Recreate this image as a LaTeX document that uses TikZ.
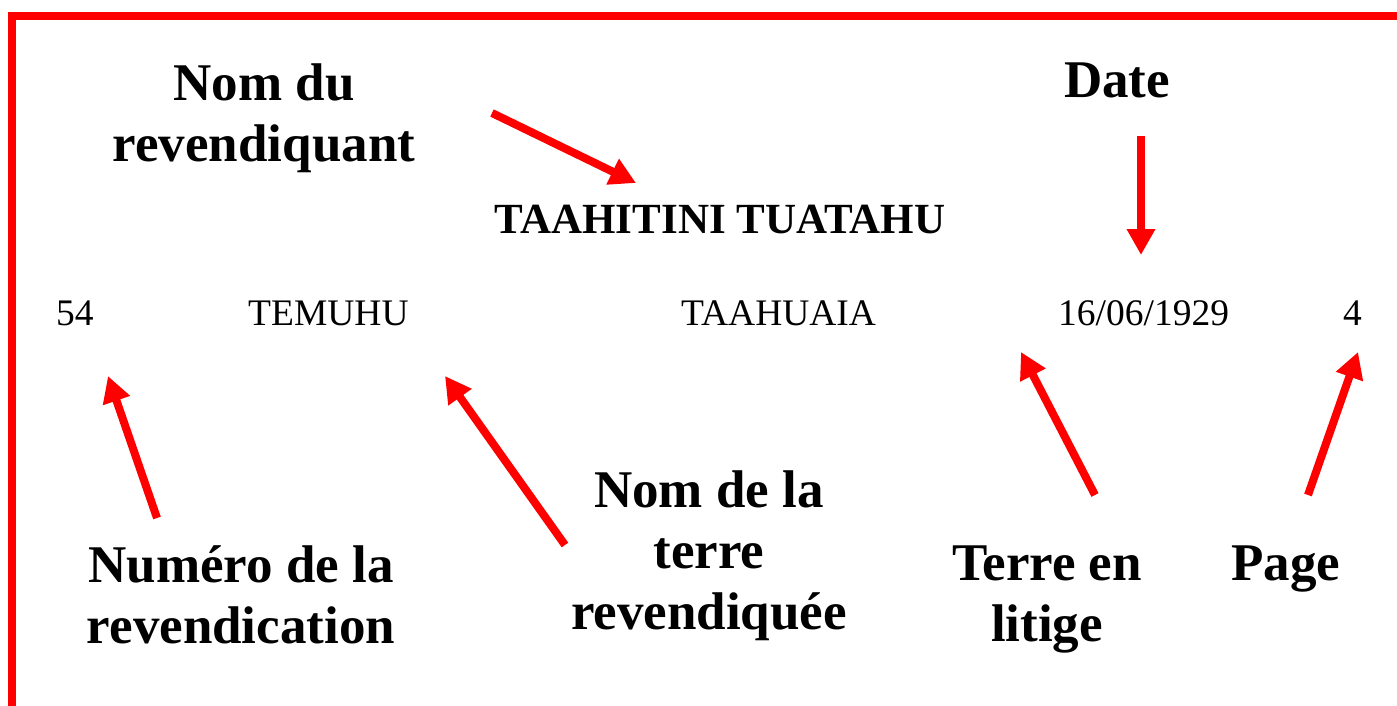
\documentclass[tikz,border=0pt]{standalone}
\usepackage{fontspec}
\setmainfont{Liberation Serif}
\usetikzlibrary{arrows.meta}
\tikzset{
  etiqueta/.style={font=\fontsize{53}{61}\selectfont\bfseries, align=center, anchor=base, inner sep=0pt},
  valor/.style={font=\fontsize{37.5}{44}\selectfont, anchor=base west, inner sep=0pt},
  flecha/.style={red, line width=8pt, -{Triangle[width=27pt,length=26pt]}},
}
\begin{document}
\begin{tikzpicture}[x=1pt,y=-1pt]
	\useasboundingbox (0,0) rectangle (1397,706);
	% Marco
		\draw[red, line width=8pt] (12,706) -- (12,16) -- (1397,16);
	% Etiquetas (base = ultima linea)
		\node[etiqueta] (nomrev) at (264,161) {Nom du\\revendiquant};
		\node[etiqueta] (fecha) at (1117,98) {Date};
		\node[etiqueta] (numrev) at (241,643) {Numéro de la\\revendication};
		\node[etiqueta] (nomterre) at (709,629) {Nom de la\\terre\\revendiquée};
		\node[etiqueta] (litigio) at (1047,641) {Terre en\\litige};
		\node[etiqueta] (pagina) at (1286,580) {Page};
	% Valores
		\node[font=\fontsize{43}{50}\selectfont\bfseries, anchor=base, inner sep=0pt] (nombre) at (720,233) {TAAHITINI TUATAHU};
		\node[valor] (numero) at (56,325) {54};
		\node[valor] (terre) at (248,325) {TEMUHU};
		\node[valor] (terrelit) at (681,325) {TAAHUAIA};
		\node[valor] (dia) at (1058,325) {16/06/1929};
		\node[valor] (pag) at (1343,325) {4};
	% Flechas
		\coordinate (a1) at (492,113); \coordinate (b1) at (636,183);
		\coordinate (a2) at (1141,136); \coordinate (b2) at (1141,255);
		\coordinate (a3) at (157,518); \coordinate (b3) at (108,376);
		\coordinate (a4) at (565,545); \coordinate (b4) at (445,376);
		\coordinate (a5) at (1095,495); \coordinate (b5) at (1021,352);
		\coordinate (a6) at (1308,495); \coordinate (b6) at (1358,352);
		\draw[flecha] (a1) -- (b1);
		\draw[flecha] (a2) -- (b2);
		\draw[flecha] (a3) -- (b3);
		\draw[flecha] (a4) -- (b4);
		\draw[flecha] (a5) -- (b5);
		\draw[flecha] (a6) -- (b6);
\end{tikzpicture}
\end{document}
